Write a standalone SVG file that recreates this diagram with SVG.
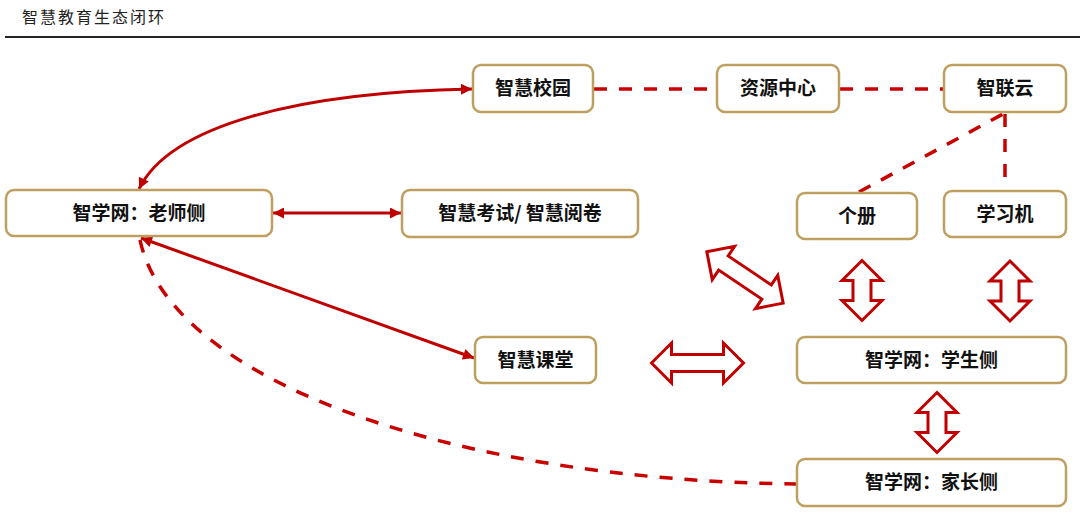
<svg xmlns="http://www.w3.org/2000/svg" width="1080" height="519" viewBox="0 0 1080 519">
<style>
.node rect{fill:#fff;stroke:#BF9F60;stroke-width:2.5}
.node text{font-family:"Noto Sans CJK SC","Noto Sans",sans-serif;font-weight:bold;font-size:19px;fill:#111;text-anchor:middle}
.solid{fill:none;stroke:#C00000;stroke-width:3}
.dash{fill:none;stroke:#C80000;stroke-width:3.5;stroke-dasharray:13 12}
.block{fill:#fff;stroke:#C00000;stroke-width:3;stroke-linejoin:miter}
.title{font-family:"Liberation Serif","Noto Sans CJK SC",serif;font-size:16px;fill:#222;letter-spacing:2px}
</style>
<defs>
<marker id="ah" viewBox="0 0 10 10" refX="10" refY="5" markerWidth="13" markerHeight="11" markerUnits="userSpaceOnUse" orient="auto-start-reverse">
<path d="M0,0 L10,5 L0,10 z" fill="#C00000"/>
</marker>
<path id="bs" d="M-30,0 L-10,-20 L-10,-9 L10,-9 L10,-20 L30,0 L10,20 L10,9 L-10,9 L-10,20 Z"/>
<path id="bl" d="M-46,0 L-26,-20 L-26,-8.5 L26,-8.5 L26,-20 L46,0 L26,20 L26,8.5 L-26,8.5 L-26,20 Z"/>
</defs>
<rect width="1080" height="519" fill="#fff"/>
<text class="title" x="22" y="23">智慧教育生态闭环</text>
<line x1="5" y1="37" x2="1080" y2="37" stroke="#222" stroke-width="2"/>

<g id="connectors">
<path class="solid" d="M472,89 C300,92 170,125 139,189" marker-start="url(#ah)" marker-end="url(#ah)"/>
<line class="solid" x1="273" y1="213" x2="401" y2="213" marker-start="url(#ah)" marker-end="url(#ah)"/>
<line class="solid" x1="141" y1="238" x2="474" y2="358" marker-start="url(#ah)" marker-end="url(#ah)"/>
<path class="dash" d="M140,240 C170,380 450,480 796,484"/>
<line class="dash" x1="594" y1="89" x2="716" y2="89"/>
<line class="dash" x1="840" y1="89" x2="943" y2="89"/>
<line class="dash" x1="859" y1="192" x2="1003" y2="114"/>
<line class="dash" x1="1005" y1="114" x2="1005" y2="184"/>
<use href="#bl" class="block" transform="translate(745,277.5) rotate(33.9)"/>
<use href="#bs" class="block" transform="translate(862,290.5) rotate(90)"/>
<use href="#bs" class="block" transform="translate(1010,291) rotate(90)"/>
<use href="#bl" class="block" transform="translate(697.5,363)"/>
<use href="#bs" class="block" transform="translate(937,422.5) rotate(90)"/>
</g>

<g id="n-teacher" class="node"><rect x="6" y="190" width="266" height="46" rx="8"/><text x="139" y="220">智学网：老师侧</text></g>
<g id="n-campus" class="node"><rect x="473" y="65" width="120" height="47" rx="8"/><text x="533" y="95">智慧校园</text></g>
<g id="n-resource" class="node"><rect x="717" y="65" width="122" height="47" rx="8"/><text x="778" y="95">资源中心</text></g>
<g id="n-cloud" class="node"><rect x="944" y="65" width="122" height="47" rx="8"/><text x="1005" y="95">智联云</text></g>
<g id="n-exam" class="node"><rect x="402" y="190" width="236" height="47" rx="8"/><text x="520" y="220">智慧考试/ 智慧阅卷</text></g>
<g id="n-book" class="node"><rect x="797" y="193" width="120" height="46" rx="8"/><text x="857" y="223">个册</text></g>
<g id="n-machine" class="node"><rect x="944" y="191" width="122" height="46" rx="8"/><text x="1005" y="221">学习机</text></g>
<g id="n-class" class="node"><rect x="475" y="337" width="121" height="46" rx="8"/><text x="535.5" y="367">智慧课堂</text></g>
<g id="n-student" class="node"><rect x="797" y="337" width="269" height="46" rx="8"/><text x="931.5" y="367">智学网：学生侧</text></g>
<g id="n-parent" class="node"><rect x="797" y="459" width="269" height="47" rx="8"/><text x="931.5" y="489">智学网：家长侧</text></g>
</svg>
